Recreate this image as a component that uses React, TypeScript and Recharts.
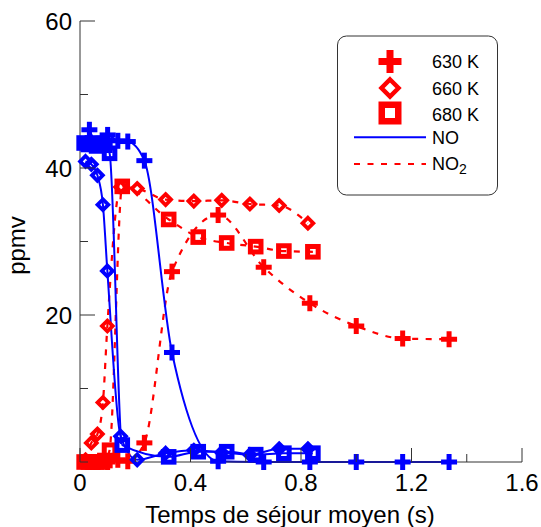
import React from 'react';
import { LineChart, Line, XAxis, YAxis } from 'recharts';

const FONT = '"Liberation Sans", Arial, Helvetica, sans-serif';
const RED = '#ff0000';
const BLUE = '#0000ff';
const AXIS = '#333333';

// 630 K : temps de séjour (s), NO and NO2 (ppmv)
const t630 = [0.034, 0.065, 0.1, 0.137, 0.173, 0.233, 0.333, 0.5, 0.665, 0.832, 1.0, 1.168, 1.336];
const no630 = [45.2, 43.3, 44.5, 43.7, 43.6, 41.0, 14.9, 0.1, 0, 0, 0, 0, 0];
const no2630 = [0, 0, 0, 0.3, 0.1, 2.6, 25.9, 33.6, 26.5, 21.6, 18.5, 16.8, 16.7];

// 660 K
const t660 = [0.02, 0.041, 0.063, 0.083, 0.099, 0.147, 0.207, 0.31, 0.412, 0.513, 0.615, 0.721, 0.825];
const no660 = [40.9, 40.5, 39.0, 35.0, 26.0, 3.5, 0.3, 1.2, 1.6, 1.3, 1.0, 1.8, 1.8];
const no2660 = [0.3, 2.6, 3.8, 8.1, 18.5, 37.4, 37.2, 35.7, 35.5, 35.6, 35.1, 34.9, 32.5];

// 680 K
const t680 = [0.015, 0.03, 0.045, 0.06, 0.075, 0.09, 0.107, 0.153, 0.321, 0.428, 0.531, 0.636, 0.738, 0.843];
const no680 = [43.4, 43.2, 43.4, 43.0, 43.3, 43.1, 42.0, 2.3, 0.7, 1.4, 1.4, 1.0, 1.2, 1.2];
const no2680 = [0, 0, 0, 0, 0, 0.2, 1.6, 37.5, 33.0, 30.6, 29.8, 29.3, 28.7, 28.6];

const xTicks = [0, 0.2, 0.4, 0.6, 0.8, 1.0, 1.2, 1.4, 1.6];
const xTickLabels = ['0', '', '0.4', '', '0.8', '', '1.2', '', '1.6'];
const yTicks = [0, 10, 20, 30, 40, 50, 60];
const yTickLabels = ['', '', '20', '', '40', '', '60'];

const toRows = (xs: number[], ys: number[]) => xs.map((x, i) => ({ x, y: ys[i] }));

function Plus({ cx, cy, color, s = 8, w = 5 }: any) {
  return (
    <g>
      <rect x={cx - s} y={cy - w / 2} width={2 * s} height={w} fill={color} />
      <rect x={cx - w / 2} y={cy - s} width={w} height={2 * s} fill={color} />
    </g>
  );
}

function Diamond({ cx, cy, color, s = 5.4, w = 3.8 }: any) {
  return (
    <polygon
      points={`${cx},${cy - s} ${cx + s},${cy} ${cx},${cy + s} ${cx - s},${cy}`}
      fill="none"
      stroke={color}
      strokeWidth={w}
    />
  );
}

function Square({ cx, cy, color, s = 5.3, w = 5 }: any) {
  return <rect x={cx - s} y={cy - s} width={2 * s} height={2 * s} fill="none" stroke={color} strokeWidth={w} />;
}

const markers: any = { plus: Plus, diamond: Diamond, square: Square };

const dotFor = (shape: string, color: string) => (p: any) => {
  const M = markers[shape];
  return <M key={`${shape}-${color}-${p.index}`} cx={p.cx} cy={p.cy} color={color} />;
};

const isMajorX = (v: number) => xTickLabels[xTicks.indexOf(v)] !== '';
const isMajorY = (v: number) => yTickLabels[yTicks.indexOf(v)] !== '';

const BottomTick = ({ x, y, payload }: any) => {
  const i = xTicks.indexOf(payload.value);
  const len = isMajorX(payload.value) ? 14 : 8;
  return (
    <g>
      <line x1={x} y1={y} x2={x} y2={y - len} stroke={AXIS} />
      <text x={x} y={y + 29} textAnchor="middle" fontSize={24} fill="#000" fontFamily={FONT}>
        {xTickLabels[i]}
      </text>
    </g>
  );
};

const TopTick = ({ x, y, payload }: any) => {
  const len = isMajorX(payload.value) ? 14 : 8;
  return <line x1={x} y1={y} x2={x} y2={y + len} stroke={AXIS} />;
};

const LeftTick = ({ x, y, payload }: any) => {
  const i = yTicks.indexOf(payload.value);
  const len = isMajorY(payload.value) ? 15 : 8;
  return (
    <g>
      <line x1={x} y1={y} x2={x + len} y2={y} stroke={AXIS} />
      <text x={x - 8} y={y + 9} textAnchor="end" fontSize={24} fill="#000" fontFamily={FONT}>
        {yTickLabels[i]}
      </text>
    </g>
  );
};

const RightTick = ({ x, y, payload }: any) => {
  const len = isMajorY(payload.value) ? 15 : 8;
  return <line x1={x} y1={y} x2={x - len} y2={y} stroke={AXIS} />;
};

function LegendBox() {
  const tx = 432;
  return (
    <svg width={541} height={527} style={{ position: 'absolute', left: 0, top: 0, pointerEvents: 'none' }}>
      <rect x={337.5} y={36} width={160} height={159} rx={9} fill="#fff" stroke={AXIS} />
      <Plus cx={390} cy={61.5} color={RED} s={11.5} w={7} />
      <Diamond cx={390} cy={88} color={RED} s={8.5} w={4.5} />
      <Square cx={390} cy={113} color={RED} s={8.25} w={6.5} />
      <line x1={354} y1={137.3} x2={426} y2={137.3} stroke={BLUE} strokeWidth={2} />
      <line x1={354} y1={164} x2={426} y2={164} stroke={RED} strokeWidth={2.2} strokeDasharray="6 7.5" />
      <g fontFamily={FONT} fontSize={18} fill="#000">
        <text x={tx} y={68}>630 K</text>
        <text x={tx} y={94.5}>660 K</text>
        <text x={tx} y={120.5}>680 K</text>
        <text x={tx} y={144}>NO</text>
        <text x={tx} y={170}>
          NO<tspan fontSize={14} dy={4}>2</tspan>
        </text>
      </g>
    </svg>
  );
}

const series = [
  { name: 'NO2 630 K', xs: t630, ys: no2630, shape: 'plus', color: RED, dash: '6 7.5' },
  { name: 'NO2 660 K', xs: t660, ys: no2660, shape: 'diamond', color: RED, dash: '6 7.5' },
  { name: 'NO2 680 K', xs: t680, ys: no2680, shape: 'square', color: RED, dash: '6 7.5' },
  { name: 'NO 630 K', xs: t630, ys: no630, shape: 'plus', color: BLUE, dash: undefined },
  { name: 'NO 660 K', xs: t660, ys: no660, shape: 'diamond', color: BLUE, dash: undefined },
  { name: 'NO 680 K', xs: t680, ys: no680, shape: 'square', color: BLUE, dash: undefined },
];

export default function App() {
  return (
    <div style={{ position: 'absolute', left: 0, top: 0, width: 541, height: 527, background: '#fff' }}>
      <LineChart width={541} height={527} margin={{ top: 21, right: 19, bottom: 0, left: 0 }} style={{ fontFamily: FONT }}>
        <XAxis
          dataKey="x"
          type="number"
          domain={[0, 1.6]}
          ticks={xTicks}
          interval={0}
          height={65}
          tickSize={0}
          tickMargin={0}
          tickLine={false}
          axisLine={{ stroke: AXIS }}
          tick={<BottomTick />}
          label={{
            content: (p: any) => {
              const vb = p.viewBox;
              return (
                <text x={vb.x + vb.width / 2 - 11} y={vb.y + vb.height - 4} textAnchor="middle" fontSize={24} fontFamily={FONT} fill="#000">
                  Temps de séjour moyen (s)
                </text>
              );
            },
          }}
        />
        <XAxis
          xAxisId="top"
          orientation="top"
          dataKey="x"
          type="number"
          domain={[0, 1.6]}
          ticks={xTicks}
          interval={0}
          height={0}
          tickSize={0}
          tickMargin={0}
          tickLine={false}
          axisLine={{ stroke: AXIS }}
          tick={<TopTick />}
        />
        <YAxis
          type="number"
          domain={[0, 60]}
          ticks={yTicks}
          interval={0}
          width={80}
          tickSize={0}
          tickMargin={0}
          tickLine={false}
          axisLine={{ stroke: AXIS }}
          tick={<LeftTick />}
          label={{
            content: (p: any) => {
              const vb = p.viewBox;
              const cy = vb.y + vb.height / 2 + 4;
              return (
                <text x={25} y={cy} transform={`rotate(-90, 25, ${cy})`} textAnchor="middle" fontSize={24} fontFamily={FONT} fill="#000">
                  ppmv
                </text>
              );
            },
          }}
        />
        <YAxis
          yAxisId="right"
          orientation="right"
          type="number"
          domain={[0, 60]}
          ticks={yTicks}
          interval={0}
          width={0}
          tickSize={0}
          tickMargin={0}
          tickLine={false}
          axisLine={{ stroke: AXIS }}
          tick={<RightTick />}
        />
        {series.map((s) => (
          <Line
            key={s.name}
            name={s.name}
            data={toRows(s.xs, s.ys)}
            dataKey="y"
            type="monotone"
            stroke={s.color}
            strokeWidth={s.dash ? 2.2 : 2}
            strokeDasharray={s.dash}
            dot={dotFor(s.shape, s.color)}
            activeDot={false}
            isAnimationActive={false}
          />
        ))}
      </LineChart>
      <LegendBox />
    </div>
  );
}
